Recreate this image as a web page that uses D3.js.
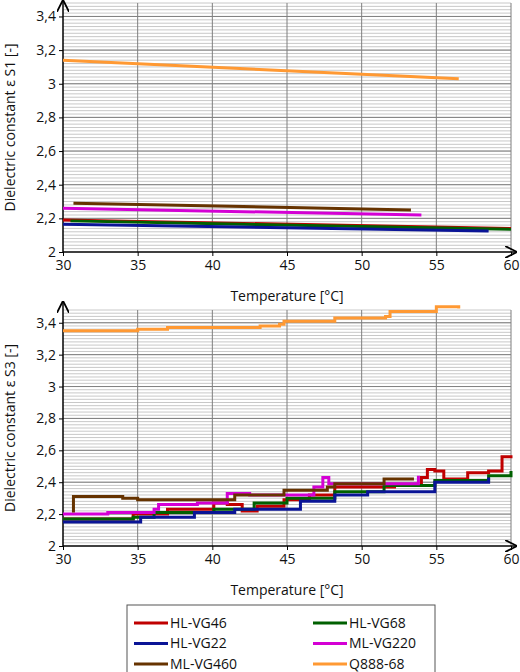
<!DOCTYPE html>
<html><head><meta charset="utf-8">
<script src="https://cdn.jsdelivr.net/npm/d3@7"></script>
<style>body{margin:0;background:#fff}text{font-family:"Open Sans",sans-serif;fill:#111}</style>
</head><body>
<script>
var names = ["HL-VG46","HL-VG68","HL-VG22","ML-VG220","ML-VG460","Q888-68"];
var colors = ["#c00000","#006000","#0a1496","#d400d4","#663300","#ff9933"];
var xTicks = [30,35,40,45,50,55,60];
var yTicks = [2,2.2,2.4,2.6,2.8,3,3.2,3.4];

// top chart (S1)
var s1 = [
  [[30,2.19],[60,2.14]],
  [[30.5,2.185],[60,2.135]],
  [[30,2.165],[58.5,2.125]],
  [[30,2.26],[54,2.22]],
  [[30.7,2.29],[53.3,2.25]],
  [[30,3.14],[56.5,3.03]]
];
// bottom chart (S3)
var s3 = [
  [[30,2.17],[34.7,2.2],[37,2.23],[40.1,2.27],[41,2.26],[42,2.22],[43,2.25],[44.8,2.29],[46.5,2.32],[48.2,2.37],[52.2,2.38],[54,2.43],[54.4,2.48],[54.9,2.47],[55.5,2.42],[57.1,2.46],[58.5,2.47],[59.4,2.56],[60,2.55]],
  [[30,2.17],[34.7,2.18],[36.1,2.21],[40.1,2.23],[42.8,2.27],[45,2.3],[48.2,2.34],[51.5,2.38],[54.9,2.41],[58.5,2.44],[60,2.47]],
  [[30,2.15],[34.3,2.15],[35.2,2.18],[38.3,2.18],[38.8,2.21],[41.5,2.23],[45,2.23],[45.9,2.28],[48.2,2.32],[50.4,2.34],[54.9,2.4],[58.5,2.43]],
  [[30,2.2],[33,2.21],[36.1,2.23],[36.4,2.26],[39,2.27],[41,2.33],[42.5,2.32],[46.8,2.37],[47.4,2.43],[47.8,2.39],[50.5,2.39],[53.8,2.44]],
  [[30.6,2.22],[30.7,2.31],[34,2.3],[35,2.29],[40.1,2.29],[41.5,2.32],[44.8,2.35],[47.7,2.37],[48.2,2.39],[51.5,2.42],[53.4,2.43]],
  [[30,3.35],[33,3.35],[35,3.36],[37,3.37],[43,3.37],[43.2,3.38],[44.5,3.39],[44.8,3.41],[47.8,3.41],[48.2,3.43],[51.6,3.44],[51.9,3.47],[54.6,3.47],[55,3.5],[56.5,3.49]]
];

var W = 520, H = 672;
var svg = d3.select("body").append("svg").attr("width",W).attr("height",H);
var defs = svg.append("defs");
defs.append("marker").attr("id","arr").attr("viewBox","0 0 10 10").attr("refX",9).attr("refY",5)
  .attr("markerWidth",8).attr("markerHeight",8).attr("orient","auto-start-reverse")
  .append("path").attr("d","M0,0L10,5L0,10").attr("fill","none").attr("stroke","#000").attr("stroke-width",1.5);

var x = d3.scaleLinear().domain([30,60]).range([63,511]);

function panel(top, bottom, data, title, curve){
  var y = d3.scaleLinear().domain([2,3.48]).range([bottom, top]);
  var g = svg.append("g");
  // minor grid
  g.append("g").selectAll("line").data(d3.range(2.02,3.49,0.02)).join("line")
    .attr("x1",63).attr("x2",511).attr("y1",d=>y(d)).attr("y2",d=>y(d))
    .attr("stroke","#c8c8c8").attr("stroke-width",1);
  // major grid
  g.append("g").selectAll("line").data(yTicks.slice(1)).join("line")
    .attr("x1",63).attr("x2",511).attr("y1",d=>y(d)).attr("y2",d=>y(d))
    .attr("stroke","#7f7f7f").attr("stroke-width",1);
  g.append("g").selectAll("line").data(xTicks.slice(1)).join("line")
    .attr("x1",d=>x(d)).attr("x2",d=>x(d)).attr("y1",top).attr("y2",bottom)
    .attr("stroke","#7f7f7f").attr("stroke-width",1);
  // axes
  var xa = g.append("g").attr("transform","translate(0,"+bottom+")")
    .call(d3.axisBottom(x).tickValues(xTicks).tickSize(4).tickSizeOuter(0));
  xa.select(".domain").remove();
  xa.selectAll("text").attr("font-size",14).attr("dy","0.75em");
  var ya = g.append("g").attr("transform","translate(63,0)")
    .call(d3.axisLeft(y).tickValues(yTicks).tickSize(4).tickFormat(d=>String(d3.format(".1f")(d)).replace(/\.0$/,"").replace(".",",")));
  ya.select(".domain").remove();
  ya.selectAll("text").attr("font-size",14);
  g.append("line").attr("x1",63).attr("x2",516).attr("y1",bottom).attr("y2",bottom)
    .attr("stroke","#000").attr("stroke-width",1.5).attr("marker-end","url(#arr)");
  g.append("line").attr("x1",63).attr("x2",63).attr("y1",bottom).attr("y2",Math.max(1,top-8))
    .attr("stroke","#000").attr("stroke-width",1.5).attr("marker-end","url(#arr)");
  // lines
  var line = d3.line().x(d=>x(d[0])).y(d=>y(d[1])).curve(curve);
  g.append("g").selectAll("path").data(data).join("path")
    .attr("d",line).attr("fill","none").attr("stroke",(d,i)=>colors[i]).attr("stroke-width",3);
  g.append("text").attr("x",287).attr("y",bottom+49).attr("text-anchor","middle").attr("font-size",14).text("Temperature [°C]");
  g.append("text").attr("transform","translate(15,"+((top+bottom)/2)+") rotate(-90)")
    .attr("text-anchor","middle").attr("font-size",14).text(title);
}
panel(3, 252, s1, "Dielectric constant ε S1 [-]", d3.curveLinear);
panel(310, 546, s3, "Dielectric constant ε S3 [-]", d3.curveStepAfter);

// legend
var lg = svg.append("g");
lg.append("rect").attr("x",127).attr("y",605).attr("width",308).attr("height",70).attr("fill","none").attr("stroke","#555");
var items = lg.selectAll("g").data(names).join("g")
  .attr("transform",(d,i)=>"translate("+(i%2 ? 313 : 134)+","+(623+Math.floor(i/2)*20.5)+")");
items.append("line").attr("x1",0).attr("x2",34).attr("stroke",(d,i)=>colors[i]).attr("stroke-width",3);
items.append("text").attr("x",36).attr("dy","0.35em").attr("font-size",14).text(d=>d);
</script>
</body></html>
